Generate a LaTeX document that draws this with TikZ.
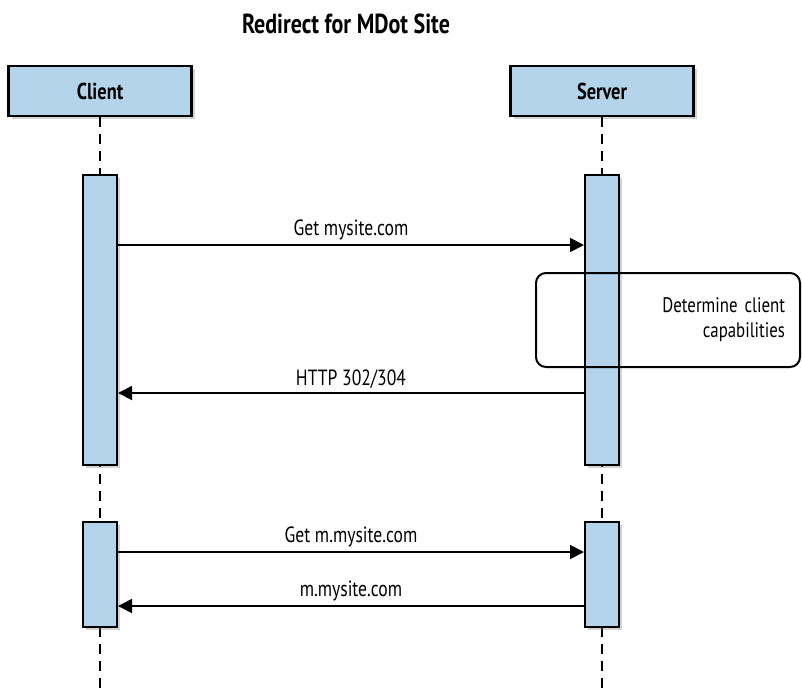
\documentclass[tikz,border=0pt]{standalone}
\usepackage{fontspec}
\setmainfont{PT Sans}[FakeStretch=0.8]
\usetikzlibrary{arrows.meta,shadows}
\definecolor{actblue}{HTML}{B3D4EA}

\tikzstyle{actor}=[draw, line width=2.5pt, fill=actblue, minimum width=183pt, minimum height=50pt, font=\bfseries\fontsize{23}{26}\selectfont, drop shadow={shadow xshift=3pt, shadow yshift=-3pt, opacity=0.35}]
\tikzstyle{activation}=[draw, line width=2pt, fill=actblue, minimum width=34pt, inner sep=0pt, drop shadow={shadow xshift=3pt, shadow yshift=-3pt, opacity=0.35}]
\tikzstyle{lifeline}=[line width=2.3pt, dash pattern=on 10pt off 7pt]
\tikzstyle{msg}=[line width=1.8pt, -{Triangle[length=14pt,width=14pt]}]
\tikzstyle{msglabel}=[font=\fontsize{22}{26}\selectfont, above, inner sep=4pt]

\begin{document}
\begin{tikzpicture}[x=1pt, y=-1pt]
\useasboundingbox (0,0) rectangle (802,689);

\node[font=\bfseries\fontsize{27.5}{30}\selectfont](title) at (346,24) {Redirect for MDot Site};

\node[actor](client) at (100,91) {Client};
\node[actor](server) at (602,91) {Server};

\coordinate (cend) at (100,689);
\coordinate (send) at (602,689);
\draw[lifeline] (client.south) -- (cend);
\draw[lifeline] (server.south) -- (send);

\node[activation, minimum height=290pt](ca1) at (100,320) {};
\node[activation, minimum height=290pt](sa1) at (602,320) {};
\node[activation, minimum height=105pt](ca2) at (100,574.5) {};
\node[activation, minimum height=105pt](sa2) at (602,574.5) {};

\draw[msg] (ca1.east |- 0,245) -- node[msglabel] {Get mysite.com} (sa1.west |- 0,245);
\draw[msg] (sa1.west |- 0,393) -- node[msglabel] {HTTP 302/304} (ca1.east |- 0,393);
\draw[msg] (ca2.east |- 0,552) -- node[msglabel] {Get m.mysite.com} (sa2.west |- 0,552);
\draw[msg] (sa2.west |- 0,606) -- node[msglabel] {m.mysite.com} (ca2.east |- 0,606);

\node[draw, line width=2pt, rounded corners=10pt, minimum width=264pt, minimum height=94pt, text width=234pt, inner xsep=15pt, align=right, font=\fontsize{21}{25}\selectfont](decide) at (668,320) {Determine client\\capabilities};
\end{tikzpicture}
\end{document}
